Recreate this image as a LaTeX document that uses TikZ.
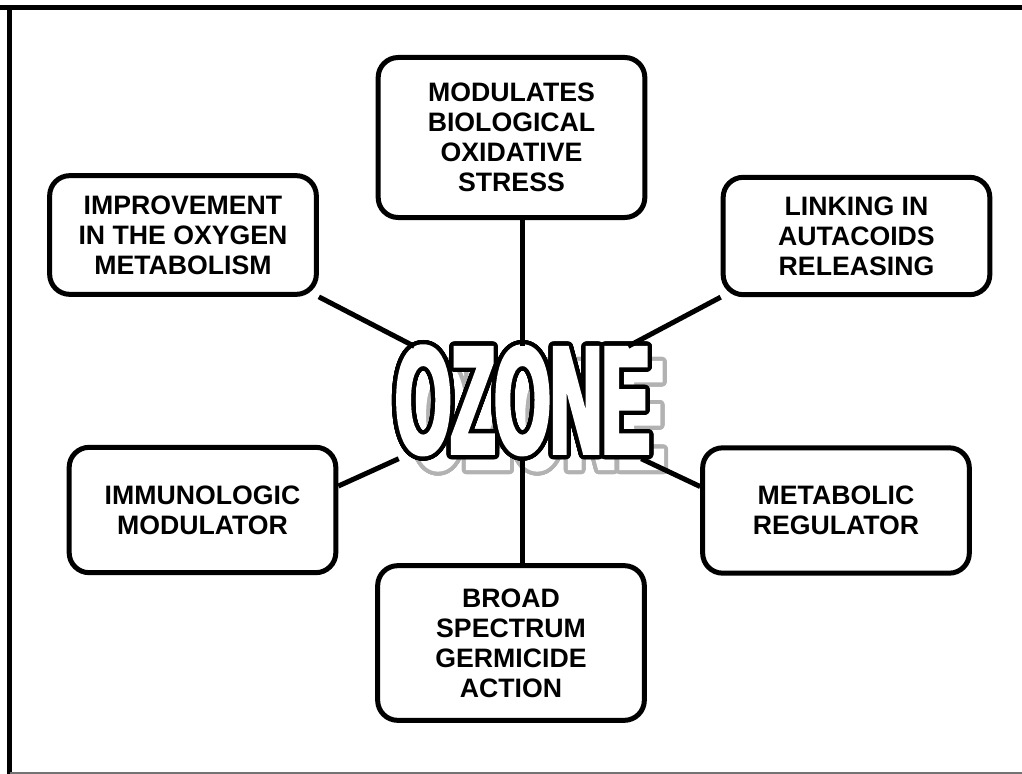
\documentclass[tikz,border=0pt]{standalone}
\usepackage{fontspec}
\usepackage{contour}
\setmainfont{Liberation Sans}
\newfontfamily\ozonefont[FakeStretch=0.47, FakeBold=3]{Liberation Sans}
\contournumber{48}
\usetikzlibrary{positioning}

\begin{document}
\begin{tikzpicture}[x=0.75pt, y=-0.75pt, effect/.style={rectangle, rounded corners=15pt, draw, line width=3.75pt, fill=white, align=center, minimum width=200pt, font=\fontsize{20pt}{22.5pt}\selectfont\bfseries}, spoke/.style={line width=3.75pt}, bigword/.style={inner sep=0pt, font=\fontsize{114pt}{114pt}\selectfont\ozonefont\bfseries}]

            \useasboundingbox (0,0) rectangle (1022,774);
            \draw[line width=3.75pt] (0,7.5) -- (9.5,7.5) -- (9.5,774);
            \draw[line width=3.75pt] (9.5,7.5) -- (1022,7.5);
            \draw[black!55, line width=1.5pt] (9.5,773) -- (1022,773);

            \node[effect, minimum height=120pt] (oxidative) at (511.5,137.5) {MODULATES\\BIOLOGICAL\\OXIDATIVE\\STRESS};
            \node[effect, minimum height=89pt] (oxygen) at (183,235) {IMPROVEMENT\\IN THE OXYGEN\\METABOLISM};
            \node[effect, minimum height=88pt] (autacoid) at (856.5,236) {LINKING IN\\AUTACOIDS\\RELEASING};
            \node[effect, minimum height=94pt] (immuno) at (202.5,510) {IMMUNOLOGIC\\MODULATOR};
            \node[effect, minimum height=94pt] (metabolic) at (836,510.5) {METABOLIC\\REGULATOR};
            \node[effect, minimum height=116pt] (germicide) at (511,643) {BROAD\\SPECTRUM\\GERMICIDE\\ACTION};

            \coordinate (core) at (522.5,402.5);
            \node[bigword] (shadow) at ([shift={(15,15)}]core) {\contourlength{3pt}\color{white}\contour{black!30}{OZONE}};
            \node[bigword] (ozone) at (core) {\contourlength{3.2pt}\color{white}\contour{black}{OZONE}};

            \draw[spoke] (ozone.north) -- (ozone.north |- oxidative.south);
            \draw[spoke] (ozone.south) -- (ozone.south |- germicide.north);
            \draw[spoke] (oxygen.south east) -- (ozone);
            \draw[spoke] (autacoid.south west) -- (ozone);
            \draw[spoke] (immuno.10) -- (ozone);
            \draw[spoke] (metabolic.170) -- (ozone);

        \end{tikzpicture}
\end{document}
